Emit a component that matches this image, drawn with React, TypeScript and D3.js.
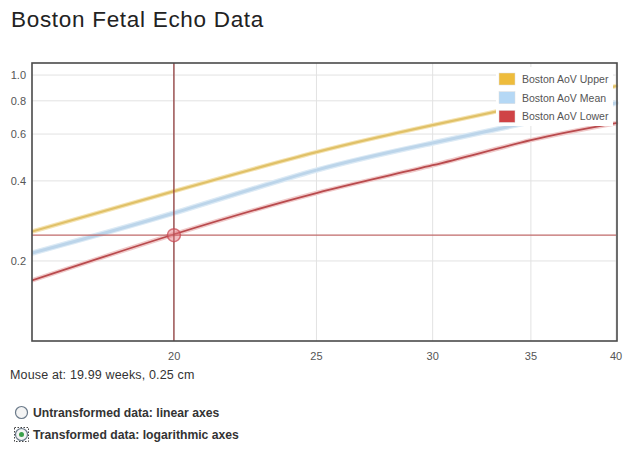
import React from "react";
import * as d3 from "d3";

// gestational weeks and aortic valve sizes (cm)
const weeks = [16, 20, 25, 30, 35, 40];
const upper = [0.258, 0.366, 0.513, 0.648, 0.778, 0.909];
const mean = [0.214, 0.303, 0.439, 0.555, 0.667, 0.785];
const lower = [0.169, 0.252, 0.36, 0.458, 0.569, 0.659];

const xTicks = [20, 25, 30, 35, 40];
const yTicks = [0.2, 0.4, 0.6, 0.8, 1.0];

const mouseWeek = 19.99;
const mouseValue = 0.25;

const seriesNames = ["Boston AoV Upper", "Boston AoV Mean", "Boston AoV Lower"];

const W = 640;
const H = 449;
const plot = { left: 32, top: 63, right: 616, bottom: 341 };

const App: React.FC = () => {
  const x = d3.scaleLog().domain([16, 40]).range([plot.left, plot.right]);
  const y = d3.scaleLog().domain([0.1, 1.11]).range([plot.bottom, plot.top]);

  const line = d3
    .line<number>()
    .x((d, i) => x(weeks[i]))
    .y((d) => y(d))
    .curve(d3.curveNatural);

  const series = [
    { name: seriesNames[0], values: upper, halo: "#f5e4b4", stroke: "#e0c168", hw: 4.5, w: 2.2, swatch: "#eebc3c" },
    { name: seriesNames[1], values: mean, halo: "#dceaf5", stroke: "#bcd5ea", hw: 5.5, w: 3, swatch: "#b5d8f5" },
    { name: seriesNames[2], values: lower, halo: "#f0caca", stroke: "#b94a4d", hw: 4.5, w: 1.8, swatch: "#cf4346" },
  ];

  const mx = x(mouseWeek);
  const my = y(mouseValue);
  const font = "'Liberation Sans', Arial, sans-serif";

  return (
    <div style={{ position: "absolute", left: 0, top: 0 }}>
      <svg width={W} height={H} style={{ display: "block", fontFamily: font }}>
        <rect width={W} height={H} fill="#fff" />
        <text x={11} y={27} fontSize={22.5} letterSpacing={0.7} fill="#222">
          Boston Fetal Echo Data
        </text>

        <defs>
          <clipPath id="plotClip">
            <rect x={plot.left} y={plot.top} width={plot.right - plot.left + 3} height={plot.bottom - plot.top} />
          </clipPath>
        </defs>

        {/* grid */}
        {yTicks.map((t) => (
          <line key={"gy" + t} x1={plot.left} x2={plot.right} y1={y(t)} y2={y(t)} stroke="#e2e2e2" strokeWidth={1} />
        ))}
        {xTicks.map((t) => (
          <line key={"gx" + t} x1={x(t)} x2={x(t)} y1={plot.top} y2={plot.bottom} stroke="#e2e2e2" strokeWidth={1} />
        ))}

        {/* series */}
        <g clipPath="url(#plotClip)">
          {series.map((s) => (
            <g key={s.name}>
              <path d={line(s.values) ?? ""} fill="none" stroke={s.halo} strokeWidth={s.hw} strokeLinecap="round" />
              <path d={line(s.values) ?? ""} fill="none" stroke={s.stroke} strokeWidth={s.w} strokeLinecap="round" />
            </g>
          ))}

          {/* crosshair */}
          <line x1={plot.left} x2={plot.right} y1={my} y2={my} stroke="#c06a6a" strokeWidth={1.2} />
          <line x1={mx} x2={mx} y1={plot.top} y2={plot.bottom} stroke="#8a3030" strokeWidth={1.2} />
          <circle cx={mx} cy={my} r={6.5} fill="rgba(226,110,120,0.45)" stroke="rgba(200,70,80,0.7)" strokeWidth={1.5} />
        </g>

        {/* legend */}
        <rect x={496} y={67} width={117} height={59} fill="#fff" />
        {series.map((s, i) => (
          <g key={"lg" + s.name} transform={`translate(499,${73 + i * 18.7})`}>
            <rect width={16} height={12} fill={s.swatch} stroke="#ddd" strokeWidth={0.5} />
            <text x={23} y={10} fontSize={10.5} fill="#555">
              {s.name}
            </text>
          </g>
        ))}

        {/* frame */}
        <rect
          x={plot.left}
          y={plot.top}
          width={plot.right - plot.left + 1}
          height={plot.bottom - plot.top}
          fill="none"
          stroke="#4a4a4a"
          strokeWidth={1.6}
        />

        {/* axis labels */}
        {yTicks.map((t) => (
          <text key={"ly" + t} x={26} y={y(t) + 4} fontSize={11} fill="#555" textAnchor="end">
            {t.toFixed(1)}
          </text>
        ))}
        {xTicks.map((t) => (
          <text key={"lx" + t} x={x(t)} y={360} fontSize={11} fill="#555" textAnchor="middle">
            {t}
          </text>
        ))}

        <text x={10} y={379} fontSize={12.5} letterSpacing={0.15} fill="#333">
          Mouse at: {mouseWeek.toFixed(2)} weeks, {mouseValue.toFixed(2)} cm
        </text>

        {/* radio buttons */}
        <circle cx={21.5} cy={412.5} r={6} fill="#f4f4f4" stroke="#6b7a8a" strokeWidth={1.2} />
        <text x={33} y={417} fontSize={12.2} fontWeight="bold" fill="#333">
          Untransformed data: linear axes
        </text>
        <rect x={14.5} y={427.5} width={14} height={14} fill="none" stroke="#444" strokeWidth={1} strokeDasharray="1.5,1.5" />
        <circle cx={21.5} cy={434.5} r={6} fill="#f4f4f4" stroke="#6b7a8a" strokeWidth={1.2} />
        <circle cx={21.5} cy={434.5} r={2.5} fill="#3aa04a" />
        <text x={33} y={439} fontSize={12.2} fontWeight="bold" fill="#333">
          Transformed data: logarithmic axes
        </text>
      </svg>
    </div>
  );
};

export default App;
